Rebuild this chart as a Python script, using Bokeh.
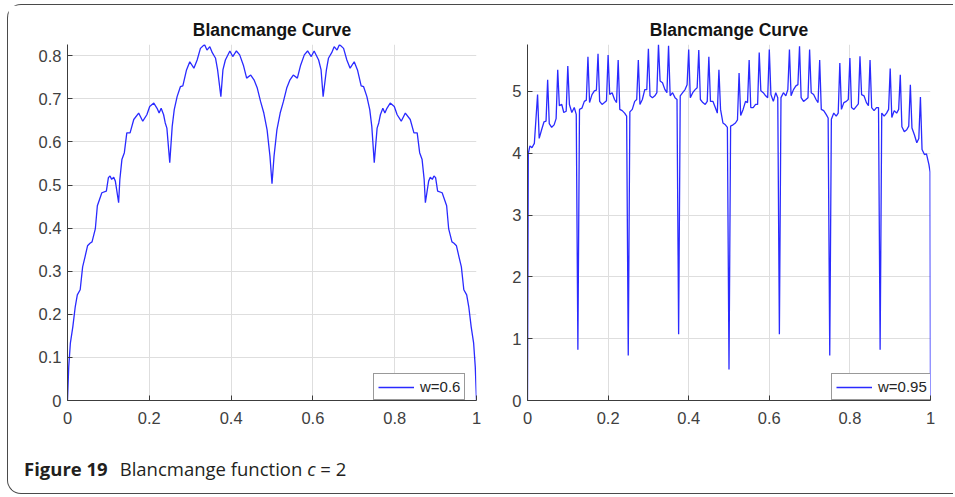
from bokeh.plotting import figure
from bokeh.models import Range1d, FixedTicker, Legend, LegendItem, Div, ColumnDataSource
from bokeh.layouts import row, column
from bokeh.embed import file_html
from bokeh.resources import INLINE

# ---------------- data ----------------
x_ticks = [0, 0.2, 0.4, 0.6, 0.8, 1]
x_tick_labels = ["0", "0.2", "0.4", "0.6", "0.8", "1"]

left_y_ticks = [0, 0.1, 0.2, 0.3, 0.4, 0.5, 0.6, 0.7, 0.8]
left_y_labels = ["0", "0.1", "0.2", "0.3", "0.4", "0.5", "0.6", "0.7", "0.8"]
right_y_ticks = [0, 1, 2, 3, 4, 5]
right_y_labels = ["0", "1", "2", "3", "4", "5"]

titles = ["Blancmange Curve", "Blancmange Curve"]
series_labels = ["w=0.6", "w=0.95"]
caption_bold = "Figure 19"
caption_rest = "Blancmange function "
caption_var = "c"
caption_tail = " = 2"

# w = 0.6 curve
w06_x = [0.000, 0.003, 0.007, 0.013, 0.019, 0.024, 0.031, 0.037, 0.043, 0.049,
         0.055, 0.060, 0.068, 0.073, 0.084, 0.095, 0.100, 0.104, 0.108, 0.113,
         0.117, 0.125, 0.128, 0.133, 0.139, 0.145, 0.153, 0.162, 0.174, 0.184,
         0.194, 0.201, 0.211, 0.219, 0.224, 0.229, 0.235, 0.239, 0.243, 0.250,
         0.256, 0.261, 0.268, 0.276, 0.282, 0.291, 0.299, 0.309, 0.317, 0.325,
         0.335, 0.341, 0.348, 0.354, 0.362, 0.367, 0.375, 0.380, 0.386, 0.397,
         0.404, 0.413, 0.421, 0.430, 0.438, 0.448, 0.456, 0.464, 0.472, 0.480,
         0.488, 0.495, 0.500,
         0.505, 0.512, 0.520, 0.528, 0.536, 0.544, 0.552, 0.562, 0.570, 0.579,
         0.587, 0.596, 0.603, 0.614, 0.620, 0.625, 0.633, 0.638, 0.646, 0.652,
         0.659, 0.665, 0.675, 0.683, 0.691, 0.701, 0.709, 0.718, 0.724, 0.732,
         0.739, 0.744, 0.750, 0.757, 0.761, 0.765, 0.771, 0.776, 0.781, 0.789,
         0.799, 0.806, 0.816, 0.826, 0.838, 0.847, 0.855, 0.861, 0.867, 0.872,
         0.875, 0.883, 0.887, 0.892, 0.896, 0.900, 0.905, 0.916, 0.927, 0.932,
         0.940, 0.945, 0.951, 0.957, 0.963, 0.969, 0.976, 0.981, 0.987, 0.993,
         0.997, 1.000]
w06_y = [0.000, 0.078, 0.133, 0.171, 0.218, 0.245, 0.257, 0.310, 0.334, 0.359,
         0.365, 0.368, 0.398, 0.452, 0.482, 0.486, 0.517, 0.521, 0.513, 0.518,
         0.509, 0.459, 0.513, 0.559, 0.575, 0.621, 0.621, 0.652, 0.667, 0.648,
         0.663, 0.682, 0.690, 0.678, 0.667, 0.678, 0.663, 0.644, 0.632, 0.552,
         0.636, 0.675, 0.705, 0.728, 0.730, 0.767, 0.786, 0.771, 0.790, 0.817,
         0.826, 0.813, 0.821, 0.807, 0.794, 0.767, 0.705, 0.767, 0.790, 0.811,
         0.798, 0.811, 0.802, 0.778, 0.748, 0.755, 0.744, 0.725, 0.694, 0.667,
         0.628, 0.567, 0.503,
         0.567, 0.628, 0.667, 0.694, 0.725, 0.744, 0.755, 0.748, 0.778, 0.802,
         0.811, 0.798, 0.811, 0.790, 0.767, 0.705, 0.767, 0.794, 0.807, 0.821,
         0.813, 0.826, 0.817, 0.790, 0.771, 0.786, 0.767, 0.730, 0.728, 0.705,
         0.675, 0.636, 0.552, 0.632, 0.644, 0.663, 0.678, 0.667, 0.678, 0.690,
         0.682, 0.663, 0.648, 0.667, 0.652, 0.621, 0.621, 0.575, 0.559, 0.513,
         0.459, 0.509, 0.518, 0.513, 0.521, 0.517, 0.486, 0.482, 0.452, 0.398,
         0.368, 0.365, 0.359, 0.334, 0.310, 0.257, 0.245, 0.218, 0.171, 0.133,
         0.078, 0.000]

# w = 0.95 curve
w095_x = [0.000, 0.002, 0.006, 0.011, 0.017, 0.025, 0.029, 0.035, 0.041, 0.046,
          0.050, 0.054, 0.060, 0.066, 0.071, 0.075, 0.079, 0.085, 0.090, 0.096,
          0.100, 0.104, 0.110, 0.116, 0.121, 0.125, 0.129, 0.135, 0.141, 0.146,
          0.150, 0.154, 0.160, 0.166, 0.171, 0.175, 0.179, 0.185, 0.191, 0.196,
          0.200, 0.204, 0.210, 0.216, 0.221, 0.225, 0.229, 0.235, 0.241, 0.246,
          0.250, 0.254, 0.260, 0.266, 0.271, 0.275, 0.279, 0.285, 0.291, 0.296,
          0.300, 0.304, 0.310, 0.316, 0.321, 0.325, 0.329, 0.335, 0.341, 0.346,
          0.350, 0.354, 0.360, 0.366, 0.371, 0.375, 0.379, 0.385, 0.391, 0.396,
          0.400, 0.404, 0.410, 0.416, 0.421, 0.425, 0.429, 0.435, 0.441, 0.446,
          0.450, 0.454, 0.460, 0.466, 0.471, 0.475, 0.479, 0.485, 0.491, 0.496,
          0.500, 0.504, 0.510, 0.516, 0.521, 0.525, 0.529, 0.535, 0.541, 0.546,
          0.550, 0.554, 0.560, 0.566, 0.571, 0.575, 0.579, 0.585, 0.591, 0.596,
          0.600, 0.604, 0.610, 0.616, 0.621, 0.625, 0.629, 0.635, 0.641, 0.646,
          0.650, 0.654, 0.660, 0.666, 0.671, 0.675, 0.679, 0.685, 0.691, 0.696,
          0.700, 0.704, 0.710, 0.716, 0.721, 0.725, 0.729, 0.735, 0.741, 0.746,
          0.750, 0.754, 0.760, 0.766, 0.771, 0.775, 0.779, 0.785, 0.791, 0.796,
          0.800, 0.804, 0.810, 0.816, 0.821, 0.825, 0.829, 0.835, 0.841, 0.846,
          0.850, 0.854, 0.860, 0.866, 0.871, 0.875, 0.879, 0.885, 0.891, 0.896,
          0.900, 0.904, 0.910, 0.916, 0.921, 0.925, 0.929, 0.935, 0.941, 0.946,
          0.950, 0.954, 0.960, 0.966, 0.971, 0.975, 0.979, 0.985, 0.990, 0.996,
          0.999, 1.000]
w095_y = [0.00, 4.00, 4.12, 4.09, 4.16, 4.95, 4.24, 4.38, 4.51, 4.52,
          5.19, 4.48, 4.42, 4.46, 4.56, 5.35, 4.77, 4.79, 4.66, 4.68,
          5.41, 4.79, 4.66, 4.74, 4.63, 0.82, 4.71, 4.73, 4.84, 4.86,
          5.56, 4.82, 4.95, 5.01, 5.02, 5.61, 4.84, 4.79, 4.82, 4.85,
          5.59, 4.95, 4.98, 4.87, 4.82, 5.51, 4.71, 4.69, 4.65, 4.60,
          0.73, 4.67, 4.71, 4.84, 4.87, 5.51, 4.79, 4.87, 5.03, 5.03,
          5.69, 4.93, 4.90, 4.93, 4.98, 5.76, 5.17, 5.14, 5.03, 4.98,
          5.74, 4.93, 4.98, 4.90, 4.87, 1.07, 4.93, 4.98, 5.03, 5.11,
          5.68, 4.90, 4.98, 5.03, 5.06, 5.67, 4.87, 4.82, 4.79, 4.84,
          5.56, 4.84, 4.84, 4.74, 4.65, 5.35, 4.71, 4.49, 4.46, 4.42,
          0.50, 4.44, 4.46, 4.49, 4.54, 5.30, 4.61, 4.71, 4.84, 4.82,
          5.51, 4.74, 4.74, 4.79, 4.79, 5.63, 5.01, 4.98, 4.93, 4.90,
          5.68, 4.95, 4.84, 4.98, 4.90, 1.07, 4.90, 4.98, 4.93, 5.03,
          5.68, 4.93, 5.03, 5.09, 5.11, 5.73, 4.90, 4.84, 4.87, 4.90,
          5.68, 4.98, 4.95, 4.87, 4.82, 5.51, 4.71, 4.69, 4.63, 4.57,
          0.73, 4.55, 4.65, 4.60, 4.65, 5.46, 4.71, 4.82, 4.84, 4.87,
          5.54, 4.74, 4.71, 4.76, 4.80, 5.57, 4.95, 4.93, 4.82, 4.77,
          5.51, 4.74, 4.69, 4.74, 4.74, 0.82, 4.65, 4.60, 4.65, 4.71,
          5.37, 4.58, 4.69, 4.65, 4.71, 5.27, 4.43, 4.35, 4.38, 4.44,
          5.11, 4.41, 4.30, 4.17, 4.24, 4.91, 4.06, 3.98, 3.99, 3.82,
          3.70, 0.00]

# ---------------- styling ----------------
TICK_FONT = "Liberation Sans"
LINE_COLOR = "#2a2aff"
AXIS_COLOR = "#3c3c3c"
LABEL_COLOR = "#404040"
GRID_COLOR = "#dedede"
MB_TOP, FRAME_H, MB_BOTTOM = 39, 356, 34


def make_panel(xs, ys, ytop, yticks, ylabels, title, label, legend_x,
               mbl, mbr, fw):
    p = figure(width=mbl + fw + mbr, height=MB_TOP + FRAME_H + MB_BOTTOM,
               min_border_left=mbl, min_border_right=mbr,
               min_border_top=MB_TOP, min_border_bottom=MB_BOTTOM,
               x_range=Range1d(0, 1), y_range=Range1d(0, ytop),
               output_backend="svg", toolbar_location=None, title=title)
    p.title.align = "center"
    p.title.text_font = TICK_FONT
    p.title.text_font_size = "17.5px"
    p.title.text_font_style = "bold"
    p.title.text_color = "#141414"
    p.outline_line_color = None
    p.background_fill_color = "white"
    p.border_fill_color = "white"

    p.xaxis.ticker = FixedTicker(ticks=x_ticks)
    p.xaxis.major_label_overrides = {t: s for t, s in zip(x_ticks, x_tick_labels)}
    p.yaxis.ticker = FixedTicker(ticks=yticks)
    p.yaxis.major_label_overrides = {t: s for t, s in zip(yticks, ylabels)}
    for ax in (p.xaxis, p.yaxis):
        ax.axis_line_color = AXIS_COLOR
        ax.axis_line_width = 1
        ax.major_tick_in = 5
        ax.major_tick_out = 0
        ax.major_tick_line_color = AXIS_COLOR
        ax.minor_tick_line_color = None
        ax.major_label_text_font = TICK_FONT
        ax.major_label_text_font_size = "16.5px"
        ax.major_label_text_color = LABEL_COLOR
    p.xaxis.major_label_standoff = 11
    p.yaxis.major_label_standoff = 6

    p.xgrid.ticker = FixedTicker(ticks=x_ticks)
    p.ygrid.ticker = FixedTicker(ticks=yticks)
    p.grid.grid_line_color = GRID_COLOR
    p.grid.grid_line_width = 1

    src = ColumnDataSource(data=dict(x=xs, y=ys))
    r = p.line("x", "y", source=src, line_color=LINE_COLOR, line_width=1.3)

    leg = Legend(items=[LegendItem(label=label, renderers=[r])],
                 location=(legend_x, 0))
    leg.border_line_color = "#333333"
    leg.border_line_width = 1
    leg.background_fill_color = "white"
    leg.background_fill_alpha = 1
    leg.label_text_font = TICK_FONT
    leg.label_text_font_size = "15px"
    leg.label_text_color = "#262626"
    leg.glyph_width = 36
    leg.glyph_height = 14
    leg.label_height = 14
    leg.label_standoff = 6
    leg.padding = 4
    leg.margin = 0
    p.add_layout(leg)
    return p


p1 = make_panel(w06_x, w06_y, 0.826, left_y_ticks, left_y_labels,
                titles[0], series_labels[0], 306, 59, 10, 409)
p2 = make_panel(w095_x, w095_y, 5.76, right_y_ticks, right_y_labels,
                titles[1], series_labels[1], 304, 41, 23, 403)

caption = Div(
    text=(f'<b>{caption_bold}</b><span style="padding-left:12px">'
          f'{caption_rest}<i>{caption_var}</i>{caption_tail}</span>'),
    width=900, height=26, margin=(22, 0, 11, 16),
    styles={"font-family": "Open Sans", "font-size": "18.5px",
            "color": "#231f20", "line-height": "26px"})

layout = column(
    row(p1, p2), caption, margin=(4, 0, 0, 7),
    styles={"border": "1.5px solid #4a4a4a", "border-right": "none",
            "border-top-left-radius": "14px",
            "border-bottom-left-radius": "14px",
            "background-color": "white"})

open("out.html", "w").write(file_html(layout, INLINE))
